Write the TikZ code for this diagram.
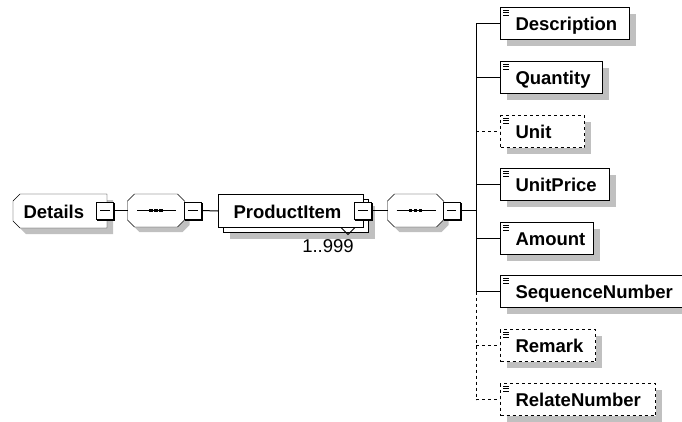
\documentclass[tikz,border=0pt]{standalone}
\usepackage{fontspec}
\setmainfont{Liberation Sans}
\definecolor{shadowgrey}{RGB}{192,192,192}
\pgfdeclarelayer{bg}
\pgfdeclarelayer{mid}
\pgfsetlayers{bg,mid,main}
\begin{document}
\begin{tikzpicture}[x=1pt,y=-1pt,
  line width=1pt,
  font=\fontsize{18.5}{20}\selectfont\bfseries,
  elem/.style={draw, fill=white, rectangle, minimum height=32pt, inner sep=0pt,
    align=left, anchor=north west, text height=16pt, text depth=2pt},
  optelem/.style={elem, dashed},
  plainbox/.style={rectangle, inner sep=0pt, align=left, anchor=north west,
    text height=16pt, text depth=2pt},
  minusbox/.style={draw, fill=white, rectangle, minimum size=17pt, inner sep=0pt},
  seqbox/.style={rectangle, minimum width=56pt, minimum height=32pt, inner sep=0pt},
  octpath/.style={insert path={
    ([shift={(7,0)}]#1.north west) -- ([shift={(-7,0)}]#1.north east) --
    ([shift={(0,7)}]#1.north east) -- ([shift={(0,-7)}]#1.south east) --
    ([shift={(-7,0)}]#1.south east) -- ([shift={(7,0)}]#1.south west) --
    ([shift={(0,-7)}]#1.south west) -- ([shift={(0,7)}]#1.north west) -- cycle}},
  leftchamfer/.style={insert path={
    ([shift={(7,0)}]#1.north west) -- (#1.north east) -- (#1.south east) --
    ([shift={(7,0)}]#1.south west) -- ([shift={(0,-7)}]#1.south west) --
    ([shift={(0,7)}]#1.north west) -- cycle}},
  shadowfill/.style={fill=shadowgrey, draw=none},
  conn/.style={draw, line width=1pt},
  optconn/.style={conn, dashed},
  iconline/.style={line width=0.8pt}
]
\useasboundingbox (0,0) rectangle (682,421);

% drop shadows of the rectangular boxes, drawn first so the boxes cover them
\fill[shadowfill] (229.5,205.5) -- (374.5,205.5) -- (374.5,238.5) -- (229.5,238.5) -- cycle;
\foreach \t/\w in {7/129,61/102,115/84,168/109,222/93,275/181.5,329/95,383/155}
  \fill[shadowfill] (506.5,\t+6.5) -- (506.5+\w,\t+6.5) -- (506.5+\w,\t+38.5) -- (506.5,\t+38.5) -- cycle;
% stacked copy behind ProductItem
\filldraw[fill=white, draw=black] (223.5,199.5) -- (368.5,199.5) -- (368.5,232.5) -- (223.5,232.5) -- cycle;

% root
\node[plainbox, text width=93pt, minimum height=33pt] (details) at (13,194) {\hspace*{10pt}Details};
\node[seqbox] (seq1) at (156,210.5) {};
\node[elem, text width=145pt, minimum height=33pt] (item) at (218,194) {\hspace*{15pt}ProductItem};
\node[font=\fontsize{18.5}{20}\selectfont\mdseries] (mult) at (328,246) {1..999};
\node[seqbox, minimum width=55pt] (seq2) at (415.5,210.5) {};
\coordinate (bus) at (476,210.5);

% children
\node[elem, text width=129pt] (desc) at (500,7) {\hspace*{15pt}Description};
\node[elem, text width=102pt] (qty) at (500,61) {\hspace*{15pt}Quantity};
\node[optelem, text width=84pt] (unit) at (500,115) {\hspace*{15pt}Unit};
\node[elem, text width=109pt] (uprice) at (500,168) {\hspace*{15pt}UnitPrice};
\node[elem, text width=93pt] (amount) at (500,222) {\hspace*{15pt}Amount};
\node[elem, text width=181.5pt] (seqno) at (500,275) {\hspace*{15pt}SequenceNumber};
\node[optelem, text width=95pt] (remark) at (500,329) {\hspace*{15pt}Remark};
\node[optelem, text width=155pt] (relate) at (500,383) {\hspace*{15pt}RelateNumber};

% shadows and outlines of the special shapes
\begin{pgfonlayer}{bg}
  \fill[shadowfill, transform canvas={shift={(6pt,-6pt)}}, leftchamfer=details];
  \fill[shadowfill, transform canvas={shift={(5pt,-5pt)}}, octpath=seq1];
  \fill[shadowfill, transform canvas={shift={(5pt,-5pt)}}, octpath=seq2];
\end{pgfonlayer}
\begin{pgfonlayer}{mid}
  \filldraw[fill=white, draw=black, leftchamfer=details];
  \filldraw[fill=white, draw=black, octpath=seq1];
  \filldraw[fill=white, draw=black, octpath=seq2];
\end{pgfonlayer}

% sequence symbols
\foreach \s in {seq1,seq2}{
  \draw ([shift={(-19,0)}]\s.center) -- ([shift={(20,0)}]\s.center);
  \foreach \d in {-5,0,5}
    \fill[black] ([shift={(\d-1.6,-1.6)}]\s.center) -- ++(3.2,0) -- ++(0,3.2) -- ++(-3.2,0) -- cycle;
}

% multiplicity marker
\draw[line width=0.9pt] (341,227.5) coordinate (va) -- (348,234.5) coordinate (vb) -- (355,227.5) coordinate (vc);

% minus boxes
\node[minusbox] (m0) at (105,210.5) {};
\node[minusbox] (m1) at (193,210.5) {};
\node[minusbox] (m2) at (363,210.5) {};
\node[minusbox] (m3) at (451.5,210.5) {};
\foreach \m in {m0,m1,m2,m3}{
  \draw ([shift={(4,0)}]\m.west) -- ([shift={(-4,0)}]\m.east);
  \draw[line width=1.8pt] ([shift={(0.4,1)}]\m.north east) -- ([shift={(0.4,0.4)}]\m.south east) -- ([shift={(1,0.4)}]\m.south west);
}

% icons
\foreach \n in {desc,qty,unit,uprice,amount,seqno,remark,relate}{
  \foreach \yy in {3,5.5,8}
    \draw[iconline] ([shift={(3,\yy)}]\n.north west) -- ++(6,0);
}

% connectors
\draw[conn] (m0.east) -- (seq1.west);
\draw[conn] (m1.east) -- (item.west);
\draw[conn] (m2.east) -- (seq2.west);
\draw[conn] (m3.east) -- (bus);
\draw[conn] (bus |- desc.west) -- (bus |- seqno.west);
\draw[optconn] (bus |- seqno.west) -- (bus |- relate.west);
\draw[conn] (bus |- desc.west) -- (desc.west);
\draw[conn] (bus |- qty.west) -- (qty.west);
\draw[optconn] (bus |- unit.west) -- (unit.west);
\draw[conn] (bus |- uprice.west) -- (uprice.west);
\draw[conn] (bus |- amount.west) -- (amount.west);
\draw[conn] (bus |- seqno.west) -- (seqno.west);
\draw[optconn] (bus |- remark.west) -- (remark.west);
\draw[optconn] (bus |- relate.west) -- (relate.west);
\end{tikzpicture}
\end{document}
